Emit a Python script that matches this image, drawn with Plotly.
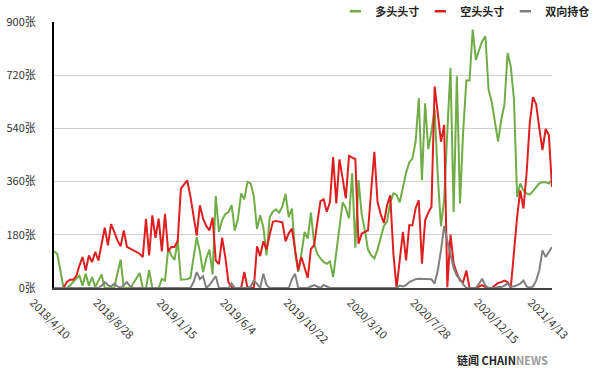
import pandas as pd
import plotly.graph_objects as go

START_DATE = "2018-04-10"
N_WEEKS = 158

SERIES_NAMES = ["多头头寸", "空头头寸", "双向持仓"]

LONG = [124, 116, 60, 0, 0, 8, 20, 32, 42, 8, 48, 8, 37, 3, 25, 46, 0, 0, 0, 0,
        50, 96, 0, 0, 0, 15, 33, 51, 0, 0, 60, 0, 0, 0, 31, 25, 133, 110, 95, 161,
        28, 28, 30, 34, 100, 172, 122, 54, 100, 130, 46, 311, 190, 230, 250, 257, 280, 195, 235, 320,
        300, 359, 354, 310, 200, 246, 206, 110, 240, 258, 266, 255, 276, 318, 240, 269, 120, 55, 115, 190,
        167, 255, 150, 116, 100, 88, 82, 90, 37, 120, 200, 290, 270, 235, 388, 136, 365, 250, 195, 130,
        110, 100, 130, 175, 210, 225, 290, 320, 315, 290, 340, 390, 425, 438, 495, 643, 365, 625, 470, 530,
        605, 376, 209, 297, 530, 744, 257, 716, 286, 530, 702, 702, 874, 772, 805, 835, 852, 671, 630, 565,
        495, 570, 620, 795, 750, 640, 308, 354, 330, 320, 316, 328, 340, 354, 358, 358, 354, 365]

SHORT = [0, 0, 0, 0, 20, 28, 28, 40, 75, 105, 59, 110, 88, 122, 93, 150, 204, 144, 216, 190,
         161, 141, 195, 139, 133, 127, 120, 116, 105, 234, 110, 246, 170, 235, 124, 251, 124, 139, 139, 160,
         336, 350, 364, 310, 240, 177, 280, 235, 210, 195, 238, 93, 81, 170, 105, 20, 3, 0, 0, 0,
         54, 0, 0, 0, 141, 108, 158, 130, 180, 224, 227, 225, 222, 158, 185, 201, 130, 60, 105, 70,
         34, 133, 144, 220, 294, 300, 258, 291, 443, 286, 435, 370, 303, 447, 440, 436, 150, 184, 190, 195,
         330, 461, 291, 250, 220, 280, 314, 115, 0, 95, 190, 93, 212, 212, 270, 297, 82, 229, 255, 274,
         682, 590, 495, 552, 3, 181, 82, 50, 25, 20, 59, 0, 0, 0, 5, 10, 3, 0, 0, 10,
         17, 20, 25, 20, 0, 120, 240, 330, 269, 390, 560, 646, 622, 540, 467, 538, 518, 342]

BOTH = [0, 0, 0, 0, 0, 0, 0, 0, 0, 0, 0, 0, 0, 0, 0, 8, 20, 10, 5, 15,
        5, 0, 10, 20, 5, 0, 0, 0, 0, 0, 0, 0, 0, 0, 0, 0, 0, 0, 0, 0,
        0, 0, 0, 0, 20, 54, 30, 40, 0, 10, 25, 40, 0, 0, 0, 0, 15, 0, 0, 0,
        0, 0, 5, 25, 15, 0, 48, 10, 0, 0, 0, 0, 0, 0, 0, 30, 48, 0, 0, 0,
        0, 5, 10, 5, 0, 10, 5, 0, 0, 0, 0, 0, 0, 0, 0, 0, 0, 0, 0, 0,
        0, 0, 0, 0, 0, 0, 0, 0, 0, 8, 5, 10, 20, 25, 30, 31, 31, 31, 31, 30,
        15, 60, 127, 210, 160, 116, 68, 42, 30, 12, 0, 0, 0, 0, 15, 31, 8, 0, 0, 0,
        3, 3, 8, 15, 5, 5, 10, 15, 25, 5, 0, 5, 25, 60, 127, 105, 122, 139]

TICK_LABELS = ["2018/4/10", "2018/8/28", "2019/1/15", "2019/6/4", "2019/10/22",
               "2020/3/10", "2020/7/28", "2020/12/15", "2021/4/13"]
Y_TICKS = [0, 180, 360, 540, 720, 900]

COLORS = ["#70AD47", "#DE1F1F", "#808080"]

dates = pd.date_range(START_DATE, periods=N_WEEKS, freq="7D")
categories = [f"{d.year}/{d.month}/{d.day}" for d in dates]

fig = go.Figure()
for name, vals, col in zip(SERIES_NAMES, [LONG, SHORT, BOTH], COLORS):
    fig.add_trace(go.Scatter(x=categories, y=vals, mode="lines", name=name,
                             line=dict(color=col, width=2), showlegend=False))
# legend entries with short dash glyphs
for name, col in zip(SERIES_NAMES, COLORS):
    fig.add_trace(go.Scatter(x=[None], y=[None], mode="markers", name=name,
                             marker=dict(symbol="line-ew", size=8, color=col,
                                         line=dict(color=col, width=2.5))))

fig.update_layout(
    width=600, height=368,
    margin=dict(l=54, r=48, t=22, b=80, autoexpand=False),
    paper_bgcolor="white", plot_bgcolor="white",
    font=dict(family="Noto Sans CJK SC", size=11, color="#333333"),
    showlegend=True,
    legend=dict(orientation="h", x=0.565, xanchor="left", y=1.04, yanchor="middle",
                font=dict(size=11, color="#222222", family="Noto Sans CJK SC", weight="bold"),
                itemwidth=30, entrywidth=40, bgcolor="rgba(0,0,0,0)"),
)
fig.update_xaxes(type="category", range=[0, N_WEEKS - 1], tickmode="array",
                 tickvals=TICK_LABELS, ticktext=TICK_LABELS, tickangle=45,
                 ticklabelshift=-21, ticklabelstandoff=2, automargin=False,
                 showgrid=False, showline=True, linecolor="#404040", linewidth=2,
                 ticks="", zeroline=False, tickfont=dict(size=11, color="#333333"))
fig.update_yaxes(range=[0, 900], tickmode="array", tickvals=Y_TICKS,
                 ticktext=[f"{v}张" for v in Y_TICKS], automargin=False,
                 showgrid=True, gridcolor="#D0D0D0", gridwidth=1,
                 showline=True, linecolor="#000000", linewidth=2,
                 zeroline=False, ticks="", ticklabelstandoff=14,
                 tickfont=dict(size=11, color="#333333"))

fig.add_annotation(xref="paper", yref="paper", x=(455 - 54) / 498, y=-(360 - 288) / 266,
                   xanchor="left", yanchor="middle", showarrow=False,
                   text="<b>链闻 CHAIN</b><span style='color:#9A9A9A'><b>NEWS</b></span>",
                   font=dict(size=11, color="#222222", family="Noto Sans CJK SC"))

fig.write_html("out.html")
